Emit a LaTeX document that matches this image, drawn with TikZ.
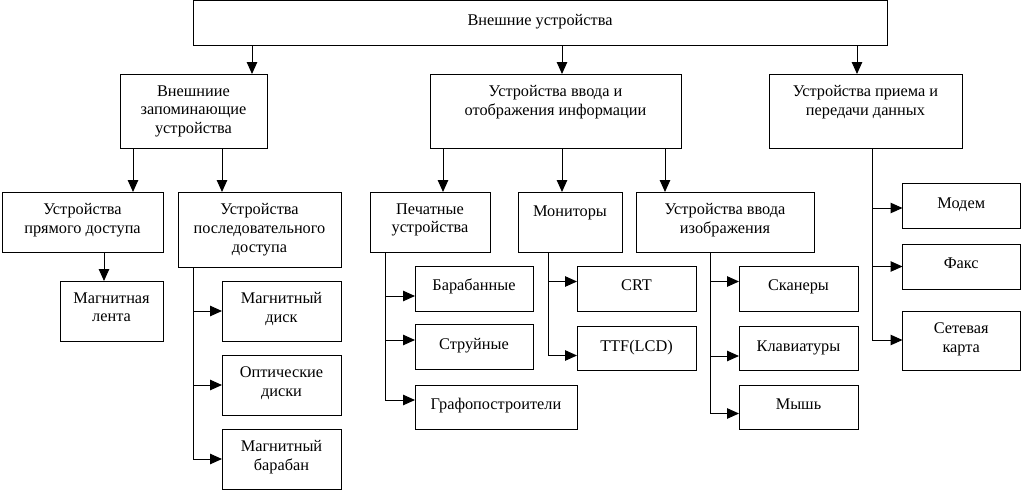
\documentclass[tikz,border=0pt]{standalone}
\usepackage{fontspec}
\setmainfont{Liberation Serif}
\usetikzlibrary{arrows.meta}
\newcommand\bxnode[6]{\node[bx,minimum width=#4pt,minimum height=#5pt,label={[lb]north:{#6}}] (#1) at (#2,#3) {};}
\begin{document}
\begin{tikzpicture}[x=1pt,y=-1pt,
  bx/.style={draw, line width=1pt, inner sep=0pt, outer sep=0pt, anchor=north west},
  lb/.style={anchor=north, yshift=-11.2pt, inner sep=0pt, align=center, font=\fontsize{16.3}{18.9}\selectfont, execute at begin node=\strut},
  ln/.style={line width=1pt},
  arr/.style={line width=1pt, -{Triangle[length=12pt,width=10.5pt]}}]
\useasboundingbox (0,0) rectangle (1021,490);
% boxes
\bxnode{top}{193}{0.6}{694}{44.4}{Внешние устройства}
\bxnode{A}{120}{74}{147}{74}{Внешниие\\запоминающие\\устройства}
\bxnode{B}{430}{74}{251}{74}{Устройства ввода и\\отображения информации}
\bxnode{C}{769}{74}{193}{74}{Устройства приема и\\передачи данных}
\bxnode{D}{2}{192}{161}{60}{Устройства\\прямого доступа}
\bxnode{E}{178}{192}{163}{75}{Устройства\\последовательного\\доступа}
\bxnode{F}{370}{192}{120}{60}{Печатные\\устройства}
\bxnode{G}{518}{192}{104}{60}{Мониторы}
\bxnode{H}{636}{192}{178}{60}{Устройства ввода\\изображения}
\bxnode{I}{60}{281}{103}{60}{Магнитная\\лента}
\bxnode{J}{222}{281}{119}{60}{Магнитный\\диск}
\bxnode{K}{222}{355}{119}{60}{Оптические\\диски}
\bxnode{L}{222}{429}{119}{60}{Магнитный\\барабан}
\bxnode{M}{415}{266}{118}{45}{Барабанные}
\bxnode{N}{415}{324.5}{118}{44.5}{Струйные}
\bxnode{O}{415}{385}{162}{44}{Графопостроители}
\bxnode{P}{577}{266}{119}{45}{CRT}
\bxnode{Q}{577}{326.5}{119}{43.5}{TTF(LCD)}
\bxnode{R}{739}{266}{119}{45}{Сканеры}
\bxnode{S}{739}{326.5}{119}{43.5}{Клавиатуры}
\bxnode{T}{739}{385}{119}{44}{Мышь}
\bxnode{U}{902.5}{183.5}{117.5}{45}{Модем}
\bxnode{V}{902.5}{244}{117.5}{45}{Факс}
\bxnode{W}{902.5}{311.5}{117.5}{58.5}{Сетевая\\карта}
% helper coordinates
\coordinate (cTA) at (252,0);
\coordinate (cTB) at (562,0);
\coordinate (cTC) at (857,0);
\coordinate (cAD) at (133,0);
\coordinate (cAE) at (222,0);
\coordinate (cBF) at (443,0);
\coordinate (cBG) at (562,0);
\coordinate (cBH) at (665,0);
\coordinate (cDI) at (104,0);
\coordinate (tE) at (193,0);
\coordinate (tF) at (385,0);
\coordinate (tG) at (548,0);
\coordinate (tH) at (710.5,0);
\coordinate (tC) at (872,0);
\coordinate (yM) at (0,296);
\coordinate (yN) at (0,340);
\coordinate (yO) at (0,400);
\coordinate (yP) at (0,281.5);
\coordinate (yQ) at (0,355.5);
\coordinate (yR) at (0,281.5);
\coordinate (yS) at (0,356);
\coordinate (yT) at (0,413.5);
\coordinate (yU) at (0,208);
\coordinate (yV) at (0,266.5);
\coordinate (yW) at (0,340);
% top level arrows
\draw[arr] (cTA |- top.south) -- (cTA |- A.north);
\draw[arr] (cTB |- top.south) -- (cTB |- B.north);
\draw[arr] (cTC |- top.south) -- (cTC |- C.north);
\draw[arr] (cAD |- A.south) -- (cAD |- D.north);
\draw[arr] (cAE |- A.south) -- (cAE |- E.north);
\draw[arr] (cBF |- B.south) -- (cBF |- F.north);
\draw[arr] (cBG |- B.south) -- (cBG |- G.north);
\draw[arr] (cBH |- B.south) -- (cBH |- H.north);
\draw[arr] (cDI |- D.south) -- (cDI |- I.north);
% E branches
\draw[arr] (tE |- J.west) -- (J.west);
\draw[arr] (tE |- K.west) -- (K.west);
\draw[arr] (tE |- E.south) -- (tE |- L.west) -- (L.west);
% F branches
\draw[arr] (tF |- yM) -- (M.west |- yM);
\draw[arr] (tF |- yN) -- (N.west |- yN);
\draw[arr] (tF |- F.south) -- (tF |- yO) -- (O.west |- yO);
% G branches
\draw[arr] (tG |- yP) -- (P.west |- yP);
\draw[arr] (tG |- G.south) -- (tG |- yQ) -- (Q.west |- yQ);
% H branches
\draw[arr] (tH |- yR) -- (R.west |- yR);
\draw[arr] (tH |- yS) -- (S.west |- yS);
\draw[arr] (tH |- H.south) -- (tH |- yT) -- (T.west |- yT);
% C branches
\draw[arr] (tC |- yU) -- (U.west |- yU);
\draw[arr] (tC |- yV) -- (V.west |- yV);
\draw[arr] (tC |- C.south) -- (tC |- yW) -- (W.west |- yW);
\end{tikzpicture}
\end{document}
